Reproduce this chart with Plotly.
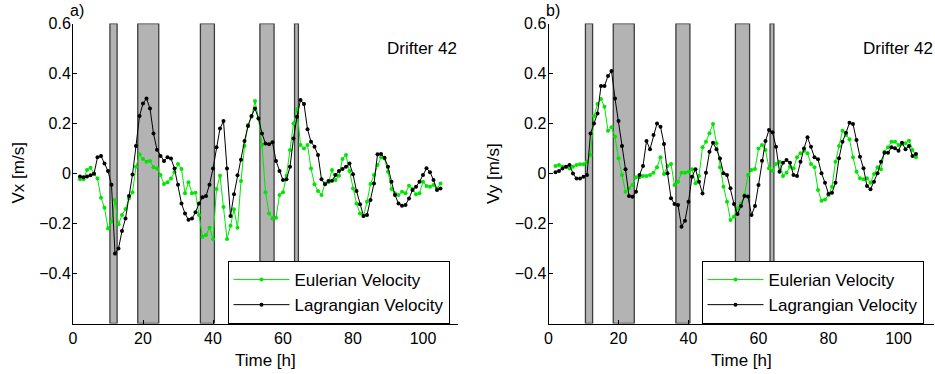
import plotly.graph_objects as go

time_h = list(range(2, 106))

vx_lagrangian = [
    -0.012, -0.015, -0.012, -0.007, -0.001, 0.065, 0.07, 0.04, 0.01, -0.045,
    -0.32, -0.30, -0.23, -0.18, -0.09, -0.004, 0.11, 0.23, 0.28, 0.30,
    0.26, 0.16, 0.095, 0.07, 0.05, 0.065, 0.06, 0.02, -0.045, -0.12,
    -0.16, -0.185, -0.18, -0.155, -0.12, -0.095, -0.09, -0.045, 0.02, 0.105,
    0.18, 0.21, 0.02, -0.17, -0.083, -0.007, 0.055, 0.13, 0.19, 0.23,
    0.26, 0.22, 0.16, 0.12, 0.117, 0.125, 0.05, 0.01, -0.026, -0.023,
    0.027, 0.14, 0.227, 0.294, 0.278, 0.177, 0.127, 0.107, 0.074, -0.023,
    -0.043, -0.03, -0.029, -0.006, 0.01, 0.018, 0.027, 0.04, -0.003, -0.07,
    -0.123, -0.17, -0.166, -0.106, -0.04, 0.077, 0.078, 0.063, 0.027, -0.033,
    -0.086, -0.12, -0.129, -0.126, -0.1, -0.066, -0.053, -0.033, -0.006, 0.021,
    0.005, -0.026, -0.066, -0.06,
]

vx_eulerian = [
    -0.023, -0.023, 0.014, 0.023, 0.0, -0.02, -0.097, -0.137, -0.22, -0.193,
    -0.106, -0.203, -0.166, -0.142, -0.1, -0.075, 0.027, 0.077, 0.058, 0.047,
    0.05, 0.025, 0.02, -0.006, -0.042, -0.035, -0.02, 0.005, 0.038, 0.018,
    -0.079, -0.035, -0.079, -0.077, -0.166, -0.253, -0.246, -0.217, -0.262, -0.062,
    -0.009, -0.134, -0.262, -0.209, -0.143, -0.217, -0.03, 0.11, 0.194, 0.227,
    0.29, 0.22, 0.114, -0.075, -0.16, -0.18, -0.177, -0.086, -0.075, -0.009,
    0.094, 0.2, 0.258, 0.114, 0.1, 0.114, 0.02, -0.043, -0.07, -0.086,
    -0.04, -0.035, 0.014, -0.026, -0.009, 0.058, 0.074, 0.01, -0.06, -0.12,
    -0.16, -0.17, -0.113, -0.042, -0.006, 0.034, 0.065, 0.06, 0.007, -0.062,
    -0.079, -0.086, -0.073, -0.079, -0.049, -0.062, -0.083, -0.079, -0.033, -0.05,
    -0.053, -0.046, -0.06, -0.04,
]

vy_lagrangian = [
    0.005, 0.01, 0.02, 0.027, 0.034, 0.0, -0.02, -0.02, -0.013, -0.006,
    0.16, 0.2, 0.24, 0.35, 0.35, 0.39, 0.41, 0.3, 0.21, 0.11,
    0.017, -0.09, -0.093, -0.073, -0.006, 0.03, 0.13, 0.097, 0.154, 0.2,
    0.187, 0.118, 0.001, -0.099, -0.122, -0.126, -0.213, -0.189, -0.113, -0.013,
    0.017, -0.033, -0.08, 0.003, 0.087, 0.123, 0.097, 0.06, 0.001, -0.006,
    -0.059, -0.122, -0.162, -0.13, -0.09, -0.092, -0.166, -0.13, -0.046, 0.051,
    0.13, 0.174, 0.165, 0.107, 0.007, 0.043, 0.054, 0.043, -0.006, -0.01,
    0.047, 0.1, 0.145, 0.107, 0.065, 0.057, 0.001, -0.037, -0.082, -0.077,
    -0.037, 0.061, 0.127, 0.163, 0.203, 0.198, 0.134, 0.067, 0.021, -0.05,
    -0.063, -0.033, 0.001, 0.047, 0.083, 0.083, 0.105, 0.101, 0.091, 0.123,
    0.097, 0.11, 0.07, 0.078,
]

vy_eulerian = [
    0.03, 0.034, 0.027, 0.027, 0.02, 0.027, 0.034, 0.037, 0.037, 0.047,
    0.074, 0.23, 0.278, 0.298, 0.267, 0.171, 0.185, 0.147, 0.061, -0.006,
    -0.073, -0.059, -0.046, -0.015, -0.015, -0.01, -0.01, -0.006, 0.003, 0.025,
    0.065, -0.002, 0.03, 0.038, -0.046, -0.033, 0.003, 0.003, 0.007, 0.017,
    -0.039, -0.01, 0.105, 0.127, 0.161, 0.198, 0.121, 0.025, -0.053, -0.113,
    -0.186, -0.173, -0.139, -0.12, -0.086, -0.006, 0.014, 0.018, 0.1, 0.114,
    0.094, 0.021, 0.011, 0.038, 0.047, -0.01, 0.003, 0.027, 0.021, 0.065,
    0.081, 0.091, 0.081, 0.038, 0.025, -0.066, -0.109, -0.104, -0.086, -0.053,
    0.047, 0.11, 0.171, 0.154, 0.137, 0.065, 0.007, -0.019, -0.023, -0.019,
    -0.037, -0.002, 0.025, 0.017, 0.087, 0.105, 0.127, 0.127, 0.114, 0.118,
    0.121, 0.131, 0.094, 0.065,
]

gap_intervals = [(10.55, 12.6), (18.5, 24.5), (36.4, 40.4), (53.4, 57.45), (63.3, 64.4)]

x_ticks = [0, 20, 40, 60, 80, 100]
y_ticks = [-0.4, -0.2, 0, 0.2, 0.4, 0.6]
y_ticktext = ["\u22120.4", "\u22120.2", "0", "0.2", "0.4", "0.6"]

panel_labels = ["a)", "b)"]
y_titles = ["Vx [m/s]", "Vy [m/s]"]
x_title = "Time [h]"
drifter_label = "Drifter 42"
series_names = ["Eulerian Velocity", "Lagrangian Velocity"]

GREEN = "#00e600"
FONT = "Liberation Sans, Arial, sans-serif"
W, H = 935, 374

fig = go.Figure()

panels = [
    (vx_eulerian, vx_lagrangian, "x", "y", "legend"),
    (vy_eulerian, vy_lagrangian, "x2", "y2", "legend2"),
]
for eu, la, xa, ya, lg in panels:
    fig.add_trace(go.Scatter(
        x=time_h, y=eu, mode="lines+markers", name=series_names[0],
        xaxis=xa, yaxis=ya, legend=lg,
        line=dict(color=GREEN, width=1), marker=dict(color=GREEN, size=4)))
    fig.add_trace(go.Scatter(
        x=time_h, y=la, mode="lines+markers", name=series_names[1],
        xaxis=xa, yaxis=ya, legend=lg,
        line=dict(color="black", width=1), marker=dict(color="black", size=4)))

shapes = []
for xa, ya in [("x", "y"), ("x2", "y2")]:
    for a, b in gap_intervals:
        shapes.append(dict(type="rect", xref=xa, yref=ya, x0=a, x1=b, y0=-0.6, y1=0.6,
                           fillcolor="#b3b3b3", line=dict(color="#3c3c3c", width=1.3),
                           layer="below"))

left_px = [73, 548.5]
plot_w = 385
top_px, bot_px = 23.5, 323.5

def xdom(i):
    return [left_px[i] / W, (left_px[i] + plot_w) / W]

ydom = [1 - bot_px / H, 1 - top_px / H]

axis_common = dict(showline=True, linecolor="black", linewidth=1, ticks="inside",
                   ticklen=4, tickcolor="black", showgrid=False, zeroline=False,
                   mirror=False, automargin=False,
                   tickfont=dict(family=FONT, size=16, color="black"))

legend_common = dict(xanchor="right", yanchor="bottom", bgcolor="white",
                     bordercolor="black", borderwidth=1, itemwidth=56,
                     font=dict(family=FONT, size=17, color="black"), tracegroupgap=0)

fig.update_layout(
    width=W, height=H, template="none",
    margin=dict(l=0, r=0, t=0, b=0),
    paper_bgcolor="white", plot_bgcolor="white",
    font=dict(family=FONT, size=17, color="black"),
    shapes=shapes,
    xaxis=dict(domain=xdom(0), range=[0, 110], tickvals=x_ticks, anchor="y", **axis_common),
    yaxis=dict(domain=ydom, range=[-0.6, 0.6], tickvals=y_ticks, ticktext=y_ticktext,
               anchor="x", ticklabelstandoff=-2, **axis_common),
    xaxis2=dict(domain=xdom(1), range=[0, 110], tickvals=x_ticks, anchor="y2", **axis_common),
    yaxis2=dict(domain=ydom, range=[-0.6, 0.6], tickvals=y_ticks, ticktext=y_ticktext,
                anchor="x2", ticklabelstandoff=-2, **axis_common),
    legend=dict(x=449.5 / W, y=1 - 324 / H, **legend_common),
    legend2=dict(x=923.5 / W, y=1 - 324 / H, **legend_common),
    showlegend=True,
)

annotations = []
for i in range(2):
    cx = left_px[i] + plot_w / 2
    common = dict(xref="paper", yref="paper", showarrow=False, xanchor="center",
                  yanchor="middle")
    annotations.append(dict(text=panel_labels[i], x=(left_px[i] + 4) / W, y=1 - 10.5 / H,
                            font=dict(size=16), **common))
    annotations.append(dict(text=y_titles[i], x=(left_px[i] - 55) / W, y=1 - 173.5 / H,
                            textangle=-90, font=dict(size=17), **common))
    annotations.append(dict(text=x_title, x=cx / W, y=1 - 360 / H,
                            font=dict(size=17), **common))
    annotations.append(dict(text=drifter_label, xref="paper", yref="paper",
                            x=(left_px[i] + plot_w + 1) / W, y=1 - 49 / H,
                            xanchor="right", yanchor="middle", showarrow=False,
                            font=dict(size=17)))
fig.update_layout(annotations=annotations)

fig.write_html("out.html")
